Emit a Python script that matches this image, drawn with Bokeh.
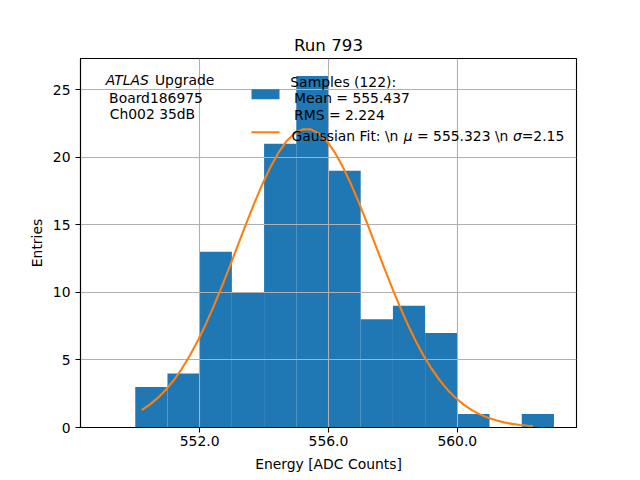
from bokeh.plotting import figure
from bokeh.models import FixedTicker, NumeralTickFormatter, Label, BoxAnnotation
from bokeh.embed import file_html
from bokeh.resources import INLINE

# histogram of the run, bins of one ADC count
bin_edges = [549, 550, 551, 552, 553, 554, 555, 556, 557, 558, 559, 560, 561, 562, 563]
counts = [0, 3, 4, 13, 10, 21, 26, 19, 8, 9, 7, 1, 0, 1]

# gaussian fit curve
fit_x = [550.20, 550.45, 550.70, 550.95, 551.20, 551.45, 551.70, 551.95, 552.20, 552.45,
         552.70, 552.95, 553.20, 553.45, 553.70, 553.95, 554.20, 554.45, 554.70, 554.95,
         555.20, 555.45, 555.70, 555.95, 556.20, 556.45, 556.70, 556.95, 557.20, 557.45,
         557.70, 557.95, 558.20, 558.45, 558.70, 558.95, 559.20, 559.45, 559.70, 559.95,
         560.20, 560.45, 560.70, 560.95, 561.20, 561.45, 561.70, 561.95, 562.20, 562.35]
fit_y = [1.29, 1.69, 2.19, 2.79, 3.51, 4.36, 5.34, 6.46, 7.70, 9.05,
         10.50, 12.02, 13.57, 15.12, 16.62, 18.02, 19.28, 20.35, 21.19, 21.77,
         22.06, 22.06, 21.76, 21.18, 20.34, 19.26, 18.00, 16.60, 15.10, 13.55,
         11.99, 10.48, 9.03, 7.68, 6.44, 5.33, 4.35, 3.50, 2.78, 2.18,
         1.69, 1.29, 0.97, 0.72, 0.53, 0.38, 0.27, 0.19, 0.13, 0.11]

x_ticks = [552, 556, 560]
y_ticks = [0, 5, 10, 15, 20, 25]

BLUE = "#1f77b4"
ORANGE = "#ff7f0e"
FONT = "DejaVu Sans"
SIZE = "13.9px"

X0, X1 = 548.3, 563.7
Y0, Y1 = 0, 27.3

p = figure(width=640, height=480, x_range=(X0, X1), y_range=(Y0, Y1),
           output_backend="svg", toolbar_location=None, tools="",
           min_border_left=80, min_border_right=64, min_border_top=58, min_border_bottom=53)

bars = p.quad(left=bin_edges[:-1], right=bin_edges[1:], top=counts, bottom=0,
              fill_color=BLUE, line_color=None)
bars.level = "image"
p.line(fit_x, fit_y, line_color=ORANGE, line_width=2.1, line_join="round")

# axes
p.xaxis.ticker = FixedTicker(ticks=x_ticks)
p.xaxis.formatter = NumeralTickFormatter(format="0.0")
p.yaxis.ticker = FixedTicker(ticks=y_ticks)
p.xaxis.axis_label = "Energy [ADC Counts]"
p.yaxis.axis_label = "Entries"
for ax in p.axis:
    ax.axis_line_color = "black"
    ax.axis_line_width = 1.1
    ax.major_tick_line_color = "black"
    ax.major_tick_line_width = 1.1
    ax.major_tick_out = 5
    ax.major_tick_in = 0
    ax.minor_tick_line_color = None
    ax.major_label_text_font = FONT
    ax.major_label_text_font_size = SIZE
    ax.major_label_text_color = "black"
    ax.axis_label_text_font = FONT
    ax.axis_label_text_font_size = SIZE
    ax.axis_label_text_font_style = "normal"
    ax.axis_label_text_color = "black"
p.xaxis.major_label_standoff = 3
p.xaxis.axis_label_standoff = 7
p.yaxis.major_label_standoff = 5
p.yaxis.axis_label_standoff = 5

p.grid.grid_line_color = "#b0b0b0"
p.grid.grid_line_width = 1.1
p.outline_line_color = "black"
p.outline_line_width = 1.1

p.title.text = "Run 793"
p.title.align = "center"
p.title.text_font = FONT
p.title.text_font_size = "16.7px"
p.title.text_font_style = "normal"
p.title.text_color = "black"
p.title.standoff = 8


# pixel -> data coordinates, for the annotation texts
def px_x(px):
    return X0 + (px - 80) * (X1 - X0) / 496


def px_y(py):
    return Y0 + (427 - py) * (Y1 - Y0) / 369


def add_text(txt, px, py, style="normal"):
    p.add_layout(Label(x=px_x(px), y=px_y(py), text=txt, text_font=FONT,
                       text_font_size=SIZE, text_font_style=style, text_color="black",
                       text_baseline="alphabetic", text_align="left"))


add_text("ATLAS", 105.2, 79, "italic")
add_text("Upgrade", 154.4, 79)
add_text("Board186975", 108.6, 97.7)
add_text("Ch002 35dB", 109.2, 113.3)

# legend
p.add_layout(BoxAnnotation(left=px_x(251), right=px_x(279), top=px_y(88.8), bottom=px_y(98.7),
                           fill_color=BLUE, fill_alpha=1, line_color=None))
p.add_layout(BoxAnnotation(left=px_x(251), right=px_x(279), top=px_y(130.7), bottom=px_y(132.8),
                           fill_color=ORANGE, fill_alpha=1, line_color=None))
add_text("Samples (122):", 289.8, 81)
add_text("Mean = 555.437", 293.6, 97.3)
add_text("RMS = 2.224", 293.6, 114.3)
add_text("Gaussian Fit: \\n", 290.9, 135.3)
add_text("μ", 403.3, 135.3, "italic")
add_text("= 555.323 \\n", 416.5, 135.3)
add_text("σ", 512.4, 135.3, "italic")
add_text("=2.15", 521.2, 135.3)

open("out.html", "w").write(file_html(p, INLINE))
